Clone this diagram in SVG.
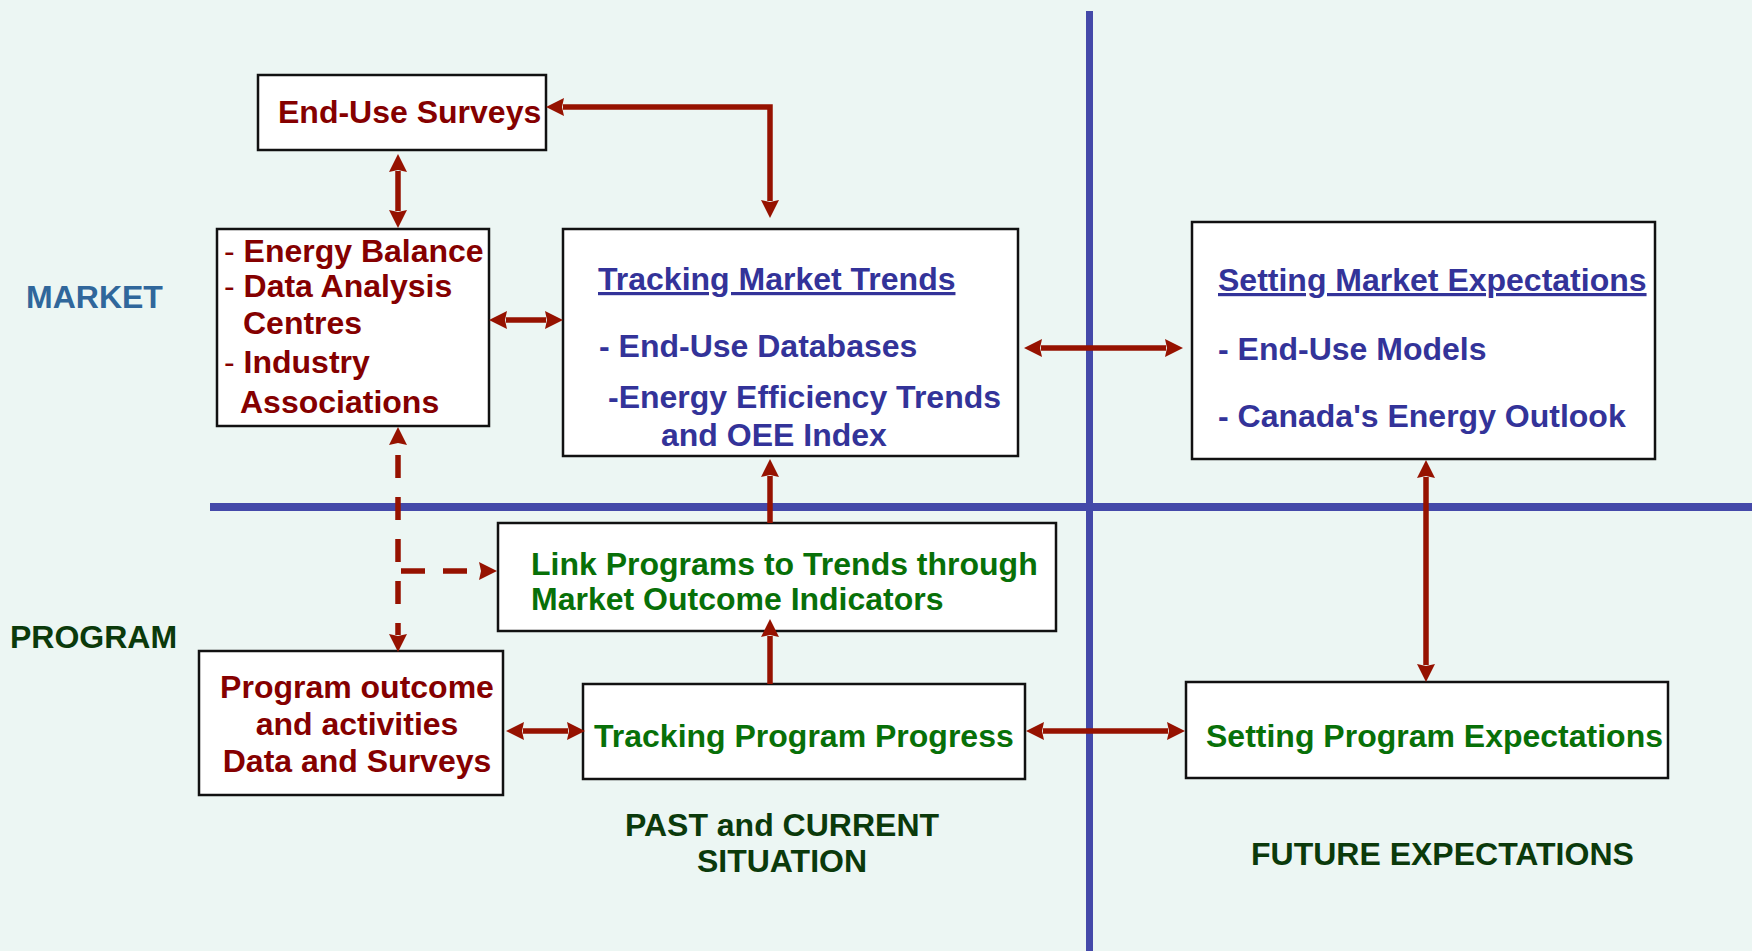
<svg xmlns="http://www.w3.org/2000/svg" width="1752" height="951" viewBox="0 0 1752 951">
<style>
  text { font-family: "Liberation Sans", Arial, sans-serif; font-weight: bold; font-size: 32px; }
  .box { fill: #ffffff; stroke: #111111; stroke-width: 2.5; }
  .red { fill: #850000; }
  .blue { fill: #333399; }
  .green { fill: #087008; }
  .lbl { font-size: 32px; }
  .dkgreen { fill: #0B3A0B; }
  .mkt { fill: #30679B; }
  .u { text-decoration: underline; text-decoration-skip-ink: none; }
  .thin { font-weight: normal; }
  .divider { stroke: #4449A9; fill: none; }
  .conn { stroke: #961200; stroke-width: 5.5; fill: none; }
  .dash { stroke-dasharray: 23 19; }
</style>
<defs>
  <marker id="ah" markerUnits="userSpaceOnUse" viewBox="0 0 18 18" markerWidth="18" markerHeight="18" refX="1" refY="9" orient="auto-start-reverse">
    <path d="M0,0 L18,9 L0,18 L2,9 z" fill="#961200"/>
  </marker>
</defs>
<rect x="0" y="0" width="1752" height="951" fill="#ECF6F3"/>

<g id="dividers">
  <line class="divider" x1="1089.5" y1="11" x2="1089.5" y2="951" stroke-width="7"/>
  <line class="divider" x1="210" y1="507" x2="1752" y2="507" stroke-width="8"/>
</g>

<g id="labels">
  <text class="lbl mkt" x="26" y="308">MARKET</text>
  <text class="lbl dkgreen" x="10" y="648">PROGRAM</text>
  <text class="lbl dkgreen" x="782" y="836" text-anchor="middle">PAST and CURRENT</text>
  <text class="lbl dkgreen" x="782" y="872" text-anchor="middle">SITUATION</text>
  <text class="lbl dkgreen" x="1251" y="865">FUTURE EXPECTATIONS</text>
</g>

<g id="end-use-surveys">
  <rect class="box" x="258" y="75" width="288" height="75"/>
  <text class="red" x="278" y="123">End-Use Surveys</text>
</g>

<g id="energy-balance">
  <rect class="box" x="217" y="229" width="272" height="197"/>
  <text class="red" x="224" y="262"><tspan class="thin">-</tspan> Energy Balance</text>
  <text class="red" x="224" y="297"><tspan class="thin">-</tspan> Data Analysis</text>
  <text class="red" x="243" y="334">Centres</text>
  <text class="red" x="224" y="373"><tspan class="thin">-</tspan> Industry</text>
  <text class="red" x="240" y="413">Associations</text>
</g>

<g id="tracking-market-trends">
  <rect class="box" x="563" y="229" width="455" height="227"/>
  <text class="blue u" x="598" y="290">Tracking Market Trends</text>
  <text class="blue" x="599" y="357">- End-Use Databases</text>
  <text class="blue" x="608" y="408">-Energy Efficiency Trends</text>
  <text class="blue" x="661" y="446">and OEE Index</text>
</g>

<g id="setting-market-expectations">
  <rect class="box" x="1192" y="222" width="463" height="237"/>
  <text class="blue u" x="1218" y="291">Setting Market Expectations</text>
  <text class="blue" x="1218" y="360">- End-Use Models</text>
  <text class="blue" x="1218" y="427">- Canada's Energy Outlook</text>
</g>

<g id="link-programs">
  <rect class="box" x="498" y="523" width="558" height="108"/>
  <text class="green" x="531" y="575">Link Programs to Trends through</text>
  <text class="green" x="531" y="610">Market Outcome Indicators</text>
</g>

<g id="program-outcome">
  <rect class="box" x="199" y="651" width="304" height="144"/>
  <text class="red" x="357" y="698" text-anchor="middle">Program outcome</text>
  <text class="red" x="357" y="735" text-anchor="middle">and activities</text>
  <text class="red" x="357" y="772" text-anchor="middle">Data and Surveys</text>
</g>

<g id="tracking-program-progress">
  <rect class="box" x="583" y="684" width="442" height="95"/>
  <text class="green" x="594" y="747">Tracking Program Progress</text>
</g>

<g id="setting-program-expectations">
  <rect class="box" x="1186" y="682" width="482" height="96"/>
  <text class="green" x="1206" y="747">Setting Program Expectations</text>
</g>

<g id="connectors">
  <path class="conn" d="M563,107 H770 V201" marker-start="url(#ah)" marker-end="url(#ah)"/>
  <path class="conn" d="M398,171 V211" marker-start="url(#ah)" marker-end="url(#ah)"/>
  <path class="conn" d="M506,320 H546" stroke-width="7" marker-start="url(#ah)" marker-end="url(#ah)"/>
  <path class="conn" d="M1041,348 H1166" marker-start="url(#ah)" marker-end="url(#ah)"/>
  <path class="conn" d="M1426,477 V665" stroke-width="5" marker-start="url(#ah)" marker-end="url(#ah)"/>
  <path class="conn" d="M1043,731 H1168" marker-start="url(#ah)" marker-end="url(#ah)"/>
  <path class="conn" d="M523,731 H568" marker-start="url(#ah)" marker-end="url(#ah)"/>
  <path class="conn" d="M770,684 V636" marker-end="url(#ah)"/>
  <path class="conn" d="M770,523 V476" marker-end="url(#ah)"/>
  <path class="conn dash" d="M398,444 V635" stroke-dashoffset="31" marker-start="url(#ah)" marker-end="url(#ah)"/>
  <path class="conn" d="M401,571 H480" stroke-dasharray="24 18" marker-end="url(#ah)"/>
</g>
</svg>
